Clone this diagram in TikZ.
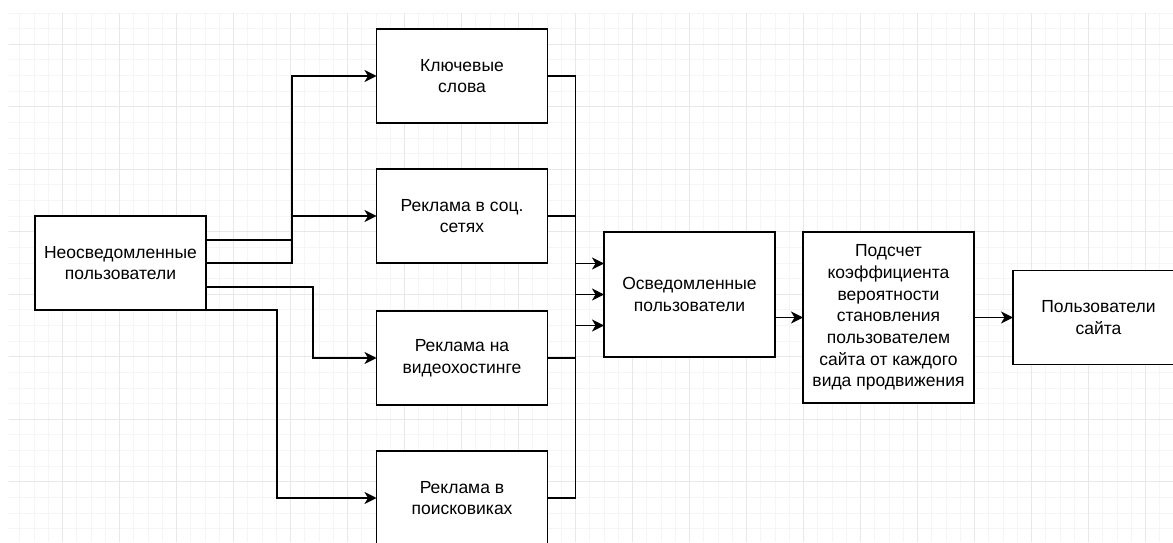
\documentclass[tikz,border=0pt]{standalone}
\usepackage{fontspec}
\setmainfont{Liberation Sans}
\usetikzlibrary{arrows.meta, positioning, calc}

\definecolor{gridmajor}{HTML}{E8E8E8}
\definecolor{gridminor}{HTML}{F5F5F5}

\begin{document}
\begin{tikzpicture}[x=1pt, y=1pt,
    every node/.style={font=\fontsize{17.5}{21.7}\selectfont},
    blok/.style={draw, line width=1.5pt, fill=white, align=center, outer sep=0pt,
      minimum width=171pt, minimum height=94pt, inner sep=2pt},
    arr/.style={line width=1.5pt, -{Stealth[length=12pt,width=12pt,inset=3.5pt]}},
    wire/.style={line width=1.5pt}]
    \useasboundingbox (0,0) rectangle (1173,542);
    \clip (0,0) rectangle (1173,542);
    % background grid
    \begin{scope}
      \clip (8.5,0) rectangle (1173,528.7);
      \foreach \i in {0,...,82} \draw[gridminor, line width=1pt] ({5.7+14.25*\i},0) -- ++(0,530);
      \foreach \i in {-2,...,34} \draw[gridminor, line width=1pt] (0,{497.7-15.625*\i}) -- ++(1173,0);
      \foreach \i in {0,...,20} \draw[gridmajor, line width=1pt] ({5.7+57*\i},0) -- ++(0,530);
      \foreach \i in {0,...,8} \draw[gridmajor, line width=1pt] (0,{497.7-62.5*\i}) -- ++(1173,0);
    \end{scope}

    \node[blok] (neosv) at (120.5,279) {Неосведомленные\\пользователи};
    \node[blok] (kw) at (462,466) {Ключевые\\слова};
    \node[blok, below=46pt of kw] (soc) {Реклама в соц.\\сетях};
    \node[blok, below=48pt of soc] (video) {Реклама на\\видеохостинге};
    \node[blok, below=46pt of video] (search) {Реклама в\\поисковиках};
    \node[blok, minimum height=125pt] (osv) at (689.5,247.5) {Осведомленные\\пользователи};
    \node[blok, minimum height=171pt] (podsch) at (888.5,224.5) {Подсчет\\коэффициента\\вероятности\\становления\\пользователем\\сайта от каждого\\вида продвижения};
    \node[blok, right=39pt of podsch] (site) {Пользователи\\сайта};

    \draw[arr] ([yshift=23pt]neosv.east) -- ++(86pt,0) |- (kw.west);
    \draw[arr] (neosv.east) -- ++(86pt,0) |- (soc.west);
    \draw[arr] ([yshift=-24pt]neosv.east) -- ++(107pt,0) |- (video.west);
    \draw[arr] (neosv.south east) -- ++(71pt,0) |- (search.west);

    \coordinate (bus) at ([xshift=28pt]kw.east);
    \draw[wire] (kw.east) -- (bus) -- (bus |- search.east) -- (search.east);
    \draw[wire] (soc.east) -- (bus |- soc.east);
    \draw[wire] (video.east) -- (bus |- video.east);
    \foreach \s in {31,0,-31}
      \draw[arr] ([xshift=-29pt, yshift=\s pt]osv.west) -- ([yshift=\s pt]osv.west);

    \draw[arr] (osv.east |- podsch.west) -- (podsch.west);
    \draw[arr] (podsch) -- (site);
  \end{tikzpicture}
\end{document}
